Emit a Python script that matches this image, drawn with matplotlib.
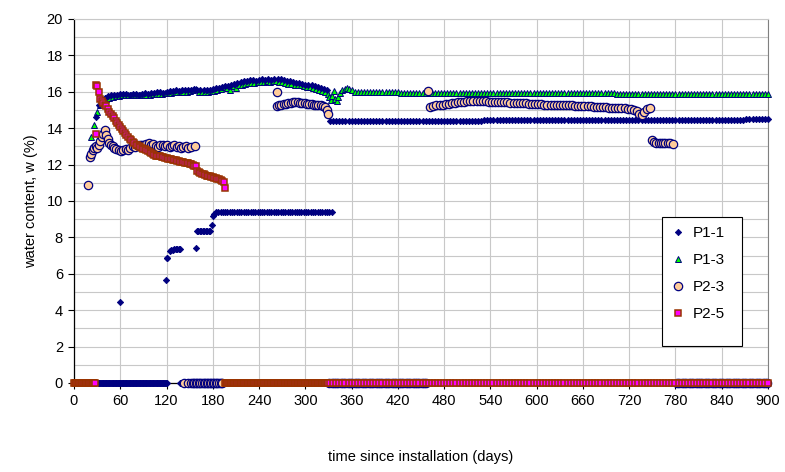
import numpy as np
import matplotlib
matplotlib.use("Agg")
import matplotlib.pyplot as plt
from matplotlib.patches import Rectangle

plt.rcParams['font.family'] = ['Liberation Sans', 'DejaVu Sans']

# ---- P1-1 (navy diamonds) ----
p11_upper_days = np.arange(24, 329, 4)
p11_upper = [13.0, 14.6, 15.3, 15.55, 15.65, 15.75, 15.8, 15.85, 15.85, 15.9,
             15.9, 15.9, 15.85, 15.9, 15.9, 15.85, 15.9, 15.95, 15.9, 15.95,
             15.95, 16.0, 16.0, 15.95, 16.0, 16.05, 16.05, 16.1, 16.05, 16.1,
             16.1, 16.1, 16.1, 16.15, 16.1, 16.1, 16.1, 16.1, 16.1, 16.15,
             16.2, 16.2, 16.25, 16.3, 16.3, 16.4, 16.45, 16.5, 16.55, 16.6,
             16.6, 16.65, 16.65, 16.6, 16.65, 16.7, 16.65, 16.7, 16.65, 16.7,
             16.7, 16.7, 16.65, 16.6, 16.6, 16.55, 16.5, 16.5, 16.45, 16.4,
             16.35, 16.35, 16.3, 16.25, 16.2, 16.15, 16.1]
p11_rise_days = [60, 119, 120, 121, 124, 126, 128, 130, 132, 134, 136, 138,
                 158, 159, 161, 163, 165, 167, 169, 171, 173, 175, 177,
                 179, 180, 182]
p11_rise = [4.43, 5.66, 6.85, 6.85, 7.25, 7.3, 7.3, 7.35, 7.35, 7.35, 7.35, 7.38,
            7.4, 8.37, 8.37, 8.35, 8.35, 8.35, 8.35, 8.37, 8.37, 8.37, 8.37,
            8.68, 9.17, 9.3]
p11_flat_days = np.arange(184, 335, 3)
p11_flat_level = 9.38
p11_late_days = np.arange(332, 901, 4)
p11_late_levels = [(332, 528, 14.38), (532, 868, 14.43), (872, 900, 14.49)]
p11_zero_days = np.concatenate([np.arange(31, 121, 1), [137, 140]])

# ---- P1-3 (green triangles) ----
p13_upper_days = np.arange(22, 327, 4)
p13_upper = [13.5, 14.2, 14.9, 15.3, 15.5, 15.6, 15.65, 15.7, 15.75, 15.75,
             15.8, 15.8, 15.8, 15.8, 15.8, 15.8, 15.85, 15.85, 15.85, 15.85,
             15.9, 15.9, 15.9, 15.9, 15.95, 15.95, 15.95, 16.0, 16.0, 16.0,
             16.0, 16.0, 16.05, 16.1, 16.15, 16.0, 16.0, 16.0, 16.0, 16.05,
             16.05, 16.1, 16.15, 16.25, 16.2, 16.1, 16.3, 16.2, 16.35, 16.4,
             16.45, 16.5, 16.5, 16.5, 16.55, 16.55, 16.55, 16.6, 16.55, 16.6,
             16.6, 16.55, 16.55, 16.5, 16.45, 16.45, 16.4, 16.35, 16.35, 16.3,
             16.25, 16.25, 16.2, 16.15, 16.1, 16.05, 16.0]
p13_dip_days = [329, 331, 333, 335, 337, 339, 341, 343, 345, 348, 351, 354, 357, 360]
p13_dip = [15.9, 15.7, 15.55, 15.75, 16.05, 15.6, 15.5, 15.7, 15.95, 16.1,
           16.15, 16.2, 16.15, 16.1]
p13_late_days = np.arange(364, 901, 4)
p13_late_levels = [(364, 420, 16.0), (424, 700, 15.93), (704, 900, 15.87)]

# ---- P2-3 (peach circles) ----
p23_early_days = [18.6, 21, 22, 24, 26, 28, 30, 32, 34, 36, 38, 40, 42, 44, 46, 48,
                  50, 52, 55, 58, 61, 64, 67, 70, 73, 76, 79, 82, 85, 88, 91, 94,
                  97, 100, 103, 106, 109, 112, 115, 118, 121, 124, 127, 130, 133,
                  136, 139, 142, 145, 148, 152, 157]
p23_early = [10.88, 12.43, 12.6, 12.8, 12.9, 13.0, 12.9, 13.1, 13.3, 13.5, 13.7,
             13.9, 13.6, 13.4, 13.2, 13.1, 13.0, 12.9, 12.85, 12.8, 12.75, 12.8,
             12.85, 12.8, 12.9, 13.0, 12.95, 13.05, 13.1, 13.05, 13.1, 13.15,
             13.2, 13.1, 13.15, 13.0, 12.95, 13.05, 13.1, 13.0, 13.05, 12.95,
             13.0, 13.05, 12.95, 13.0, 12.9, 12.95, 13.0, 12.9, 12.95, 13.0]
p23_mid_days = [263, 263, 266, 269, 272, 275, 278, 281, 284, 287, 290, 293, 296,
                299, 302, 305, 308, 311, 314, 317, 320, 323, 326, 328, 330]
p23_mid = [16.0, 15.2, 15.25, 15.3, 15.35, 15.35, 15.4, 15.4, 15.45, 15.45, 15.45,
           15.4, 15.4, 15.4, 15.35, 15.35, 15.35, 15.3, 15.3, 15.25, 15.25, 15.2,
           15.15, 15.0, 14.8]
p23_late_days = np.arange(462, 731, 4)
p23_late = [15.15, 15.2, 15.25, 15.3, 15.3, 15.35, 15.35, 15.4, 15.4, 15.45,
            15.45, 15.45, 15.5, 15.5, 15.5, 15.5, 15.5, 15.5, 15.5, 15.45,
            15.45, 15.45, 15.45, 15.45, 15.45, 15.45, 15.4, 15.4, 15.4, 15.4,
            15.4, 15.4, 15.35, 15.35, 15.35, 15.35, 15.35, 15.3, 15.3, 15.3,
            15.3, 15.3, 15.3, 15.25, 15.25, 15.25, 15.25, 15.2, 15.2, 15.2,
            15.2, 15.2, 15.2, 15.15, 15.15, 15.15, 15.15, 15.15, 15.1, 15.1,
            15.1, 15.1, 15.1, 15.1, 15.05, 15.05, 15.0, 14.95]
p23_tail_days = [459, 733, 736, 739, 743, 747]
p23_tail = [16.04, 14.8, 14.75, 14.9, 15.05, 15.1]
p23_low_days = [750, 752, 755, 758, 761, 764, 767, 770, 773, 777]
p23_low = [13.35, 13.25, 13.2, 13.2, 13.2, 13.2, 13.2, 13.2, 13.2, 13.15]
p23_zero_days = np.concatenate([[143, 148], np.arange(152, 194, 2),
                                np.arange(331, 459, 3), np.arange(782, 901, 3)])

# ---- P2-5 (magenta squares) ----
p25_jump_days = [28, 29]
p25_jump = [13.7, 16.4]
p25_curve_days = np.arange(30, 197, 2)
p25_curve = [16.3, 16.0, 15.6, 15.5, 15.4, 15.3, 15.2, 15.05, 14.9, 14.8,
             14.65, 14.55, 14.4, 14.3, 14.2, 14.05, 13.95, 13.85, 13.75, 13.6,
             13.5, 13.4, 13.35, 13.25, 13.2, 13.1, 13.05, 13.0, 12.95, 12.9,
             12.85, 12.85, 12.8, 12.75, 12.7, 12.65, 12.6, 12.55, 12.5, 12.5,
             12.45, 12.45, 12.4, 12.4, 12.35, 12.35, 12.3, 12.3, 12.3, 12.25,
             12.25, 12.25, 12.2, 12.2, 12.15, 12.15, 12.15, 12.1, 12.1, 12.1,
             12.05, 12.05, 12.0, 11.95, 11.9, 11.65, 11.6, 11.55, 11.5, 11.5,
             11.45, 11.4, 11.4, 11.35, 11.3, 11.3, 11.25, 11.25, 11.2, 11.2,
             11.15, 11.1, 11.05, 10.7]
p25_zero_days = np.concatenate([np.arange(0, 28, 1), np.arange(196, 331, 1),
                                np.arange(332, 901, 4)])


def levels(days, segs):
    out = np.zeros(len(days))
    for a, b, v in segs:
        out[(days >= a) & (days <= b)] = v
    return out


fig = plt.figure(figsize=(7.85, 4.72), dpi=100)
ax = fig.add_axes([74 / 785, 1 - 383 / 472, 694 / 785, 364 / 472])

navy = '#000080'
s11 = dict(marker='D', ms=3.2, mfc=navy, mec=navy, mew=0.6, ls='none', clip_on=False, zorder=4)
s13 = dict(marker='^', ms=5.0, mfc='#00ff00', mec=navy, mew=0.7, ls='none', clip_on=False, zorder=3)
s23 = dict(marker='o', ms=6.0, mfc='#ffcc99', mec=navy, mew=0.9, ls='none', clip_on=False, zorder=5)
s25 = dict(marker='s', ms=4.2, mfc='#ff00ff', mec='#993300', mew=1.1, ls='none', clip_on=False, zorder=6)

h11, = ax.plot(p11_upper_days, p11_upper, label='P1-1', **s11)
ax.plot(p11_rise_days, p11_rise, **s11)
ax.plot(p11_flat_days, np.full(len(p11_flat_days), p11_flat_level), **s11)
ax.plot(p11_late_days, levels(p11_late_days, p11_late_levels), **s11)
ax.plot(p11_zero_days, np.zeros(len(p11_zero_days)), **s11)

h13, = ax.plot(p13_upper_days, p13_upper, label='P1-3', **s13)
ax.plot(p13_dip_days, p13_dip, **s13)
ax.plot(p13_late_days, levels(p13_late_days, p13_late_levels), **s13)

h23, = ax.plot(p23_zero_days, np.zeros(len(p23_zero_days)), label='P2-3', **s23)
ax.plot(p23_early_days, p23_early, **s23)
ax.plot(p23_mid_days, p23_mid, **s23)
ax.plot(p23_late_days, p23_late, **s23)
ax.plot(p23_tail_days, p23_tail, **s23)
ax.plot(p23_low_days, p23_low, **s23)

h25, = ax.plot(p25_zero_days, np.zeros(len(p25_zero_days)), label='P2-5', **s25)
ax.plot(p25_jump_days, p25_jump, **s25)
ax.plot(p25_curve_days, p25_curve, **s25)

ax.set_xlim(0, 900)
ax.set_ylim(0, 20)
ax.set_xticks(np.arange(0, 901, 60))
ax.set_yticks(np.arange(0, 21, 2))
ax.set_yticks(np.arange(0, 21, 1), minor=True)
ax.set_axisbelow(True)
ax.grid(True, which='both', axis='y', color='#c8c8c8', lw=0.8)
ax.grid(True, which='major', axis='x', color='#c8c8c8', lw=0.8)
ax.tick_params(which='major', direction='out', length=4, width=0.8, labelsize=10.5, pad=4)
ax.tick_params(which='minor', length=0)
ax.spines['top'].set_color('#c8c8c8')
ax.spines['right'].set_color('#808080')
ax.spines['left'].set_linewidth(0.9)
ax.spines['bottom'].set_linewidth(0.9)

ax.set_ylabel('water content, w (%)', fontsize=10.5, labelpad=6)
ax.set_xlabel('time since installation (days)', fontsize=10.5, labelpad=30)

box = Rectangle((662 / 785, 1 - 346 / 472), 80 / 785, 129 / 472, transform=fig.transFigure,
                facecolor='white', edgecolor='black', lw=0.8, zorder=10)
fig.patches.append(box)
leg = fig.legend(handles=[h11, h13, h23, h25], loc='upper left',
                 bbox_to_anchor=(671 / 785, 1 - 226 / 472), bbox_transform=fig.transFigure,
                 frameon=False, fontsize=11, handlelength=0.9, handletextpad=0.5,
                 labelspacing=0.85, borderpad=0, borderaxespad=0, numpoints=1)
leg.set_zorder(11)

fig.savefig('out.png', dpi=100)
